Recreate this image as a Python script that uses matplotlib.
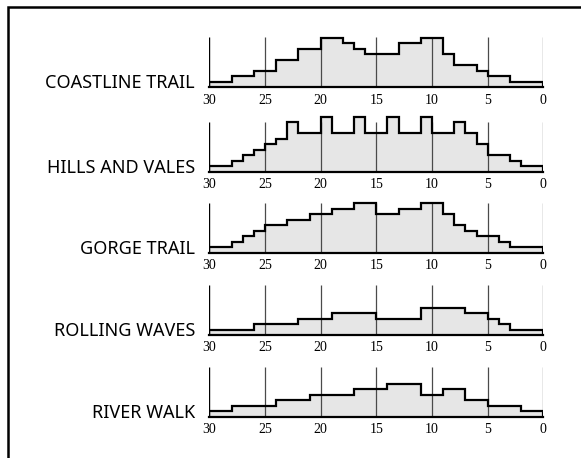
import numpy as np
import matplotlib.pyplot as plt
from matplotlib.patches import Rectangle

# --- data: step profiles, distance (30 -> 0) and height in units ---
trail_names = ['COASTLINE TRAIL', 'HILLS AND VALES', 'GORGE TRAIL', 'ROLLING WAVES', 'RIVER WALK']

coast_edges = [30, 28, 26, 24, 22, 20, 18, 17, 16, 13, 11, 9, 8, 6, 5, 3, 0]
coast_vals = [1, 2, 3, 5, 7, 9, 8, 7, 6, 8, 9, 6, 4, 3, 2, 1]

hills_edges = [30, 28, 27, 26, 25, 24, 23, 22, 20, 19, 17, 16, 14, 13, 11, 10, 8, 7, 6, 5, 3, 2, 0]
hills_vals = [1, 2, 3, 4, 5, 6, 9, 7, 10, 7, 10, 7, 10, 7, 10, 7, 9, 7, 5, 3, 2, 1]

gorge_edges = [30, 28, 27, 26, 25, 23, 21, 19, 17, 15, 13, 11, 9, 8, 7, 6, 4, 3, 0]
gorge_vals = [1, 2, 3, 4, 5, 6, 7, 8, 9, 7, 8, 9, 7, 5, 4, 3, 2, 1]

rolling_edges = [30, 26, 22, 19, 15, 11, 7, 5, 4, 3, 0]
rolling_vals = [1, 2, 3, 4, 3, 5, 4, 3, 2, 1]

river_edges = [30, 28, 24, 21, 17, 14, 11, 9, 7, 5, 2, 0]
river_vals = [1, 2, 3, 4, 5, 6, 4, 5, 3, 2, 1]

all_edges = [coast_edges, hills_edges, gorge_edges, rolling_edges, river_edges]
all_vals = [coast_vals, hills_vals, gorge_vals, rolling_vals, river_vals]

tick_pos = [30, 25, 20, 15, 10, 5, 0]

# --- layout (pixels) ---
W, H = 581, 458
x_left, x_right = 209.3, 543.3
baselines = [87.3, 171.7, 252.7, 335.0, 416.7]
unit = 5.5        # px per height unit
ytop = 10.5
grid_top = 9.1

fig = plt.figure(figsize=(W / 100, H / 100), dpi=100)

for name, edges, vals, base in zip(trail_names, all_edges, all_vals, baselines):
    ax = fig.add_axes([x_left / W, 1 - base / H, (x_right - x_left) / W, ytop * unit / H])
    e = np.array(edges[::-1], dtype=float)
    v = np.array(vals[::-1], dtype=float)
    ax.stairs(v, e, fill=True, color='#e6e6e6', zorder=1)
    ax.vlines([25, 20, 15, 10, 5, 0], 0, grid_top, color='#4a4a4a', lw=0.9, zorder=2)
    ax.vlines([30], 0, grid_top, color='black', lw=1.0, zorder=2)
    ax.stairs(v, e, fill=False, baseline=0, color='black', lw=1.6, zorder=3)
    ax.set_xlim(30, 0)
    ax.set_ylim(0, ytop)
    for sp in ('top', 'right', 'left'):
        ax.spines[sp].set_visible(False)
    ax.spines['bottom'].set_linewidth(1.6)
    ax.spines['bottom'].set_zorder(4)
    ax.set_xticks(tick_pos)
    ax.set_xticklabels([str(t) for t in tick_pos], family='Liberation Serif', fontsize=10)
    ax.tick_params(axis='x', length=0, pad=4.5)
    ax.set_yticks([])
    ax.patch.set_visible(False)

    fig.text(195 / W, 1 - (base + 1) / H, name, ha='right', va='baseline',
             fontsize=13, family='Noto Sans')

# outer frame (only top and left edges fall inside the image)
fig.add_artist(Rectangle((8 / W, -0.05), 1.0, 1.05 - 7 / H,
                         transform=fig.transFigure, fill=False, ec='black', lw=1.8))

plt.savefig('out.png', dpi=100)
